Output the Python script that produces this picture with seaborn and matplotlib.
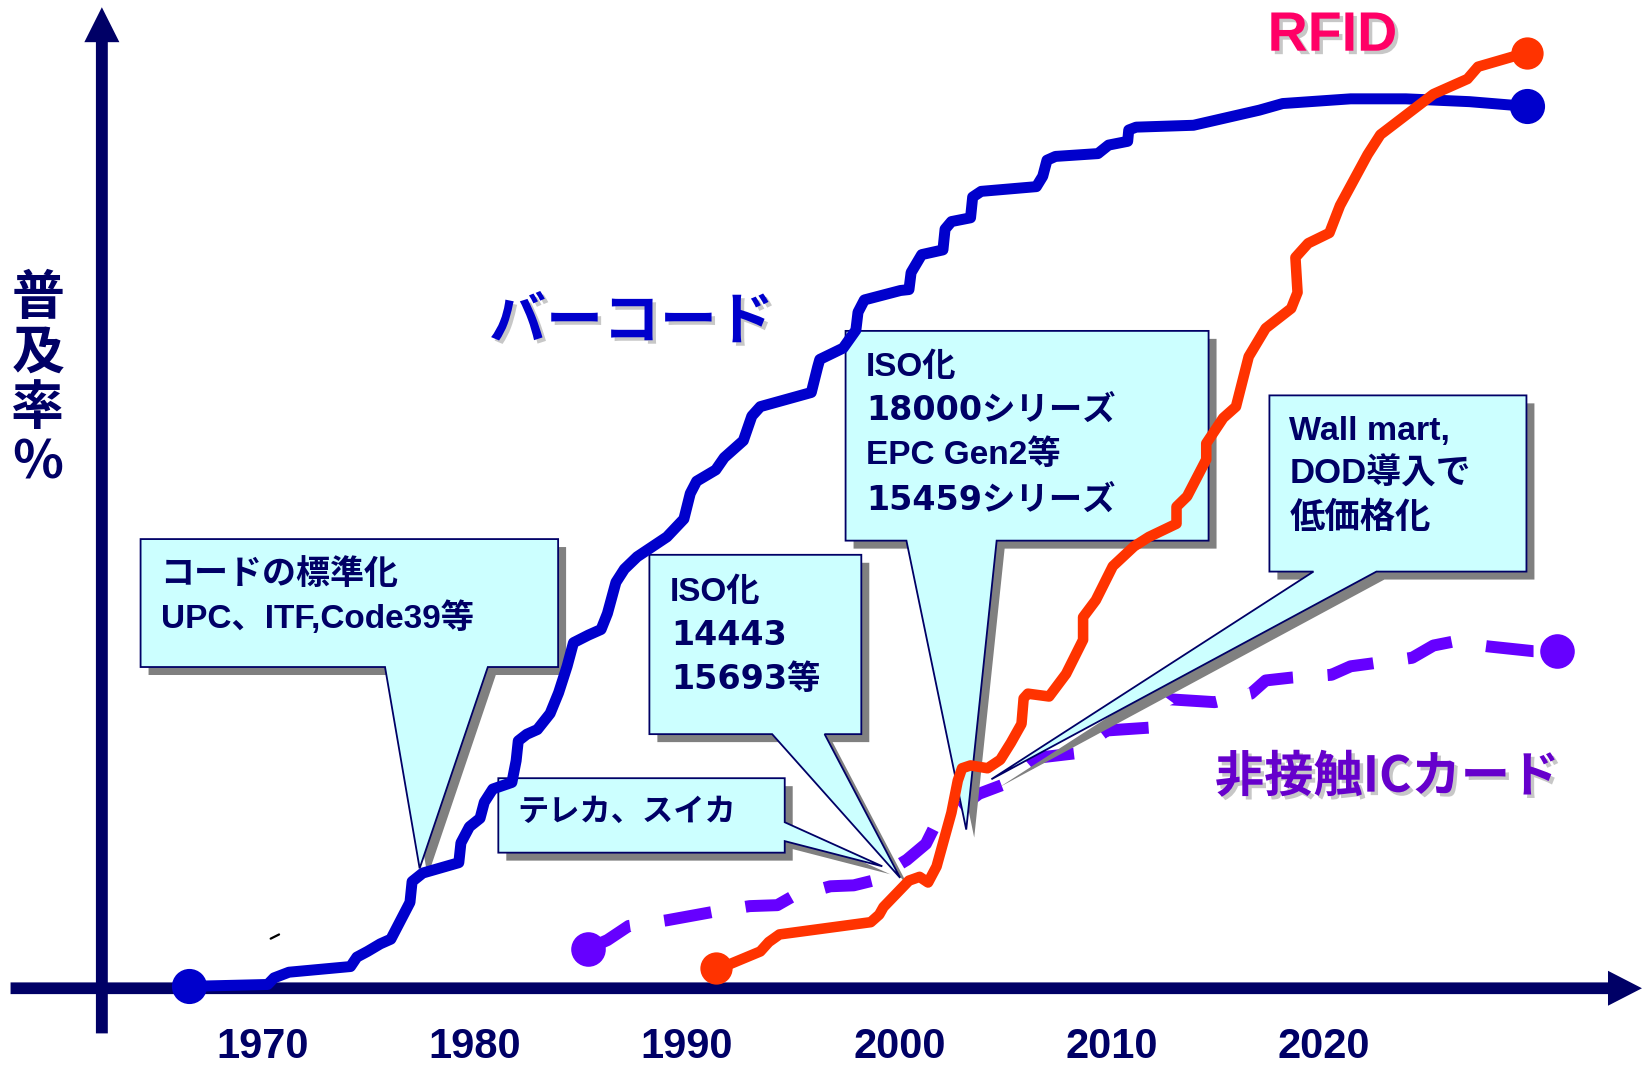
import numpy as np
import pandas as pd
import matplotlib
matplotlib.use("Agg")
import matplotlib.pyplot as plt
import matplotlib.patheffects as pe
import matplotlib.transforms as mtransforms
from matplotlib.patches import Polygon
from matplotlib.lines import Line2D
import seaborn as sns

# ---------------- data ----------------
barcode_year = [1967.0, 1970.7, 1971.0, 1971.7, 1974.6, 1974.9, 1975.4, 1976.0, 1976.5, 1977.4,
                1977.5, 1978.0, 1979.7, 1979.8, 1980.2, 1980.7, 1980.9, 1981.3, 1982.2, 1982.4,
                1982.5, 1982.9, 1983.4, 1984.0, 1984.4, 1984.8, 1985.1, 1985.8, 1986.4, 1986.7,
                1987.1, 1987.5, 1988.1, 1989.5, 1990.3, 1990.6, 1990.9, 1991.8, 1992.2, 1993.1,
                1993.5, 1993.9, 1996.3, 1996.6, 1996.7, 1997.8, 1998.4, 1998.5, 1998.8, 2000.5,
                2000.9, 2001.0, 2001.5, 2002.5, 2002.6, 2002.9, 2003.8, 2003.9, 2004.3, 2006.9,
                2007.2, 2007.4, 2007.8, 2009.8, 2010.3, 2011.2, 2011.25, 2011.6, 2014.3, 2017.4,
                2018.5, 2021.7, 2024.3, 2027.3, 2030.0]
barcode_pct = [0.2, 0.4, 1.1, 1.7, 2.3, 3.3, 3.9, 4.7, 5.2, 9.1,
               11.3, 12.2, 13.3, 15.4, 17.1, 18.0, 19.7, 21.1, 21.8, 24.1,
               26.2, 26.9, 27.4, 29.1, 31.3, 34.1, 36.6, 37.4, 38.0, 39.7,
               43.0, 44.4, 45.7, 47.8, 49.7, 52.4, 53.7, 54.9, 56.2, 58.0,
               60.6, 61.6, 63.1, 65.8, 66.6, 67.8, 69.7, 71.6, 72.9, 73.9,
               74.0, 75.8, 77.7, 78.2, 80.4, 81.2, 81.6, 83.8, 84.4, 84.9,
               86.0, 87.7, 88.1, 88.4, 89.3, 89.7, 90.9, 91.2, 91.4, 93.0,
               93.7, 94.2, 94.2, 93.9, 93.4]

rfid_year = [1991.8, 1992.3, 1993.9, 1994.3, 1994.8, 1999.1, 1999.5, 1999.7, 2000.9, 2001.4,
             2001.8, 2002.2, 2002.9, 2003.2, 2003.4, 2003.8, 2004.6, 2005.2, 2005.7, 2006.2,
             2006.3, 2006.5, 2007.5, 2008.3, 2009.1, 2009.1, 2009.7, 2010.5, 2011.5, 2012.2,
             2013.5, 2013.5, 2014.0, 2014.9, 2014.9, 2015.7, 2016.3, 2016.9, 2017.7, 2018.9,
             2019.2, 2019.1, 2019.7, 2020.7, 2021.2, 2022.5, 2023.1, 2025.6, 2027.2, 2027.7,
             2030.0]
rfid_pct = [2.1, 2.4, 3.9, 4.9, 5.7, 7.0, 7.8, 8.6, 11.4, 11.8,
            11.2, 12.9, 18.6, 22.0, 23.3, 23.6, 23.3, 24.2, 26.0, 28.0,
            30.7, 31.2, 30.9, 33.3, 36.9, 39.3, 41.1, 44.7, 46.8, 47.8,
            49.2, 51.0, 52.1, 56.0, 57.7, 60.4, 61.6, 66.9, 69.9, 72.0,
            73.7, 77.4, 78.9, 80.0, 82.9, 88.3, 90.4, 94.7, 96.3, 97.6,
            99.1]

ic_year = [1985.8, 1986.7, 1987.7, 1989.5, 1991.7, 1993.4, 1994.7, 1995.4, 1997.2, 1998.3,
           1999.2, 2000.8, 2001.7, 2002.1, 2004.2, 2005.5, 2006.9, 2008.8, 2010.2, 2012.2,
           2013.2, 2015.3, 2017.0, 2017.7, 2018.9, 2020.8, 2021.7, 2022.7, 2024.6, 2025.6,
           2026.5, 2028.2, 2030.3, 2031.4]
ic_pct = [4.2, 5.1, 6.6, 7.2, 8.1, 8.7, 8.8, 9.7, 10.8, 10.9,
          11.4, 13.6, 15.3, 17.1, 20.6, 21.7, 24.4, 24.9, 27.3, 27.6,
          30.6, 30.3, 31.2, 32.6, 32.9, 33.2, 34.1, 34.4, 35.0, 36.3,
          36.7, 36.2, 35.7, 35.7]

xtick_years = [1970, 1980, 1990, 2000, 2010, 2020]
xtick_labels = ["1970", "1980", "1990", "2000", "2010", "2020"]

series_names = ["バーコード", "RFID", "非接触ICカード"]
y_title = "普\n及\n率\n%"

callout_texts = [
    ["コードの標準化", "UPC、ITF,Code39等"],
    ["テレカ、スイカ"],
    ["ISO化", "14443", "15693等"],
    ["ISO化", "18000シリーズ", "EPC Gen2等", "15459シリーズ"],
    ["Wall mart,", "DOD導入で", "低価格化"],
]

# ---------------- style ----------------
NAVY = "#000066"
BLUE = "#0000CC"
RED = "#FF3300"
PURPLE = "#6600FF"
PURPLE_TXT = "#6600CC"
PINK = "#FF0066"
CYAN = "#CCFFFF"
SHADOW = "#808080"

sns.set_style("white")
plt.rcParams["font.family"] = ["Liberation Sans", "Noto Sans CJK JP", "DejaVu Sans"]

LAT = ["Liberation Sans", "Noto Sans CJK JP"]
DIG = ["DejaVu Sans", "Noto Sans CJK JP"]
CJK = ["Noto Sans CJK JP", "DejaVu Sans"]

REF_W, REF_H = 1568.0, 1025.0

fig = plt.figure(figsize=(16.45, 10.75), dpi=100)
ax = fig.add_axes([0, 0, 1, 1])
ax.set_xlim(1958.093, 2035.563)
ax.set_ylim(-9.187, 104.667)


def P(x, y):
    return (x / REF_W, 1 - y / REF_H)


# ---------------- axes arrows ----------------
ax.arrow(1958.59, 0, 2035.42 - 1958.59, 0, width=1.24, head_width=3.7, head_length=1.6,
         length_includes_head=True, color=NAVY, lw=0, zorder=1.5)
ax.arrow(1962.89, -4.78, 0, 103.9 + 4.78, width=0.56, head_width=1.65, head_length=3.7,
         length_includes_head=True, color=NAVY, lw=0, zorder=1.5)

# ---------------- series ----------------
df_bar = pd.DataFrame({"year": barcode_year, "pct": barcode_pct})
df_rfid = pd.DataFrame({"year": rfid_year, "pct": rfid_pct})
df_ic = pd.DataFrame({"year": ic_year, "pct": ic_pct})

sns.lineplot(data=df_ic, x="year", y="pct", sort=False, estimator=None, color=PURPLE,
             linewidth=8.6, linestyle=(0, (4.0, 2.9)), dash_capstyle="butt", ax=ax, zorder=1.8)
sns.lineplot(data=df_bar, x="year", y="pct", sort=False, estimator=None, color=BLUE,
             linewidth=7.9, solid_joinstyle="round", solid_capstyle="round", ax=ax, zorder=4)
sns.lineplot(data=df_rfid, x="year", y="pct", sort=False, estimator=None, color=RED,
             linewidth=7.6, solid_joinstyle="round", solid_capstyle="round", ax=ax, zorder=4.1)

sns.scatterplot(data=df_bar.iloc[[0, -1]], x="year", y="pct", s=640, color=BLUE,
                linewidth=0, ax=ax, zorder=5)
sns.scatterplot(data=df_rfid.iloc[[0, -1]], x="year", y="pct", s=540, color=RED,
                linewidth=0, ax=ax, zorder=5)
sns.scatterplot(data=df_ic.iloc[[0, -1]], x="year", y="pct", s=620, color=PURPLE,
                linewidth=0, ax=ax, zorder=5)

ax.set_xlabel("")
ax.set_ylabel("")

# ---------------- ticks ----------------
for s in ax.spines.values():
    s.set_visible(False)
ax.spines["bottom"].set_position(("data", -0.88))
ax.set_yticks([])
ax.set_xticks(xtick_years)
ax.set_xticklabels(xtick_labels)
ax.tick_params(axis="x", direction="inout", length=32.4, width=3.6, color=NAVY,
               labelcolor=NAVY, labelsize=30, pad=5.5)
offset = mtransforms.ScaledTranslation(9.4 / 100, 0, fig.dpi_scale_trans)
for lab in ax.get_xticklabels():
    lab.set_fontfamily(LAT)
    lab.set_fontweight("bold")
    lab.set_transform(lab.get_transform() + offset)

# ---------------- callouts ----------------
callout_shapes = [
    [(134, 514), (532, 514), (532, 636), (465, 636), (400, 828), (367, 636), (134, 636)],
    [(475, 742), (748, 742), (748, 784), (841, 826), (748, 802), (748, 813), (475, 813)],
    [(619, 529), (821, 529), (821, 700), (786, 700), (858, 837), (736, 700), (619, 700)],
    [(806, 315.5), (1152, 315.5), (1152, 515.5), (950, 515.5), (921, 791), (864, 515.5), (806, 515.5)],
    [(1210, 377), (1455, 377), (1455, 545), (1312, 545), (945, 743), (1252, 545), (1210, 545)],
]
SH = 7.6
for pts in callout_shapes:
    ax.add_patch(Polygon([P(x + SH, y + SH) for x, y in pts], closed=True, transform=ax.transAxes,
                         facecolor=SHADOW, edgecolor="none", zorder=2.0, clip_on=False))
for pts in callout_shapes:
    ax.add_patch(Polygon([P(x, y) for x, y in pts], closed=True, transform=ax.transAxes,
                         facecolor=CYAN, edgecolor=NAVY, lw=1.3, joinstyle="miter",
                         zorder=2.5, clip_on=False))

text_layout = [
    [(153, 548, 24.5, LAT), (153, 589, 24, LAT)],
    [(493, 775, 22.5, LAT)],
    [(638, 565, 24, LAT), (640, 606, 24, DIG), (640, 648, 24, DIG)],
    [(825, 350, 24, LAT), (826, 391, 24, DIG), (825, 434, 24, LAT), (826, 477, 24, DIG)],
    [(1229, 411, 24.5, LAT), (1229, 452, 25, LAT), (1229, 494, 25.5, LAT)],
]
for lines, lay in zip(callout_texts, text_layout):
    for txt, (x, y, fs, fam) in zip(lines, lay):
        ax.text(*P(x, y), txt, transform=ax.transAxes, ha="left", va="center",
                fontsize=fs, family=fam, fontweight="bold", color=NAVY, zorder=2.6)

# ---------------- labels ----------------
shadow_fx = [pe.withSimplePatchShadow(offset=(2.5, -2.5), shadow_rgbFace="#9a9a9a", alpha=0.55)]
ax.text(*P(602, 307), series_names[0], transform=ax.transAxes, ha="center", va="center",
        fontsize=41, family=CJK, fontweight="bold", color=BLUE, zorder=6, path_effects=shadow_fx)
ax.text(*P(1270, 35), series_names[1], transform=ax.transAxes, ha="center", va="center",
        fontsize=40, family=LAT, fontweight="bold", color=PINK, zorder=6, path_effects=shadow_fx)
ax.text(*P(1322, 741), series_names[2], transform=ax.transAxes, ha="center", va="center",
        fontsize=35.5, family=CJK, fontweight="bold", color=PURPLE_TXT, zorder=6, path_effects=shadow_fx)

ax.text(*P(36, 363), y_title, transform=ax.transAxes, ha="center", va="center",
        multialignment="center", linespacing=1.05, fontsize=38, family=CJK,
        fontweight="bold", color=NAVY, zorder=6)

# small stray mark present in the reference
ax.add_line(Line2D([258 / REF_W, 266 / REF_W], [1 - 895 / REF_H, 1 - 891 / REF_H],
                   transform=ax.transAxes, color="black", lw=1.6, zorder=6))

fig.savefig("out.png", dpi=100, facecolor="white")
